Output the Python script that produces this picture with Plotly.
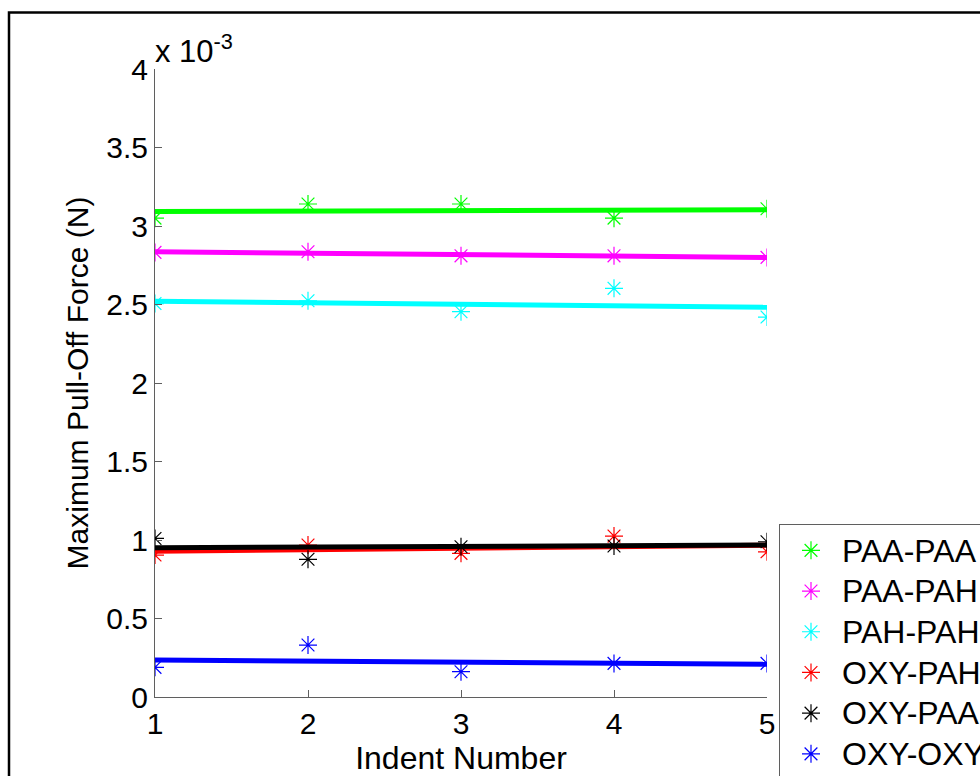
import numpy as np
import plotly.graph_objects as go

# Indent number (x) and maximum pull-off force (values in units of 1e-3 N)
indent = [1, 2, 3, 4, 5]
paa_paa = [3.05, 3.14, 3.14, 3.05, 3.11]
paa_pah = [2.832, 2.836, 2.81, 2.81, 2.80]
pah_pah = [2.506, 2.524, 2.454, 2.603, 2.42]
oxy_pah = [0.904, 0.968, 0.915, 1.025, 0.925]
oxy_paa = [1.01, 0.877, 0.957, 0.962, 0.989]
oxy_oxy = [0.189, 0.331, 0.161, 0.214, 0.214]

series_names = ["PAA-PAA", "PAA-PAH", "PAH-PAH", "OXY-PAH", "OXY-PAA", "OXY-OXY"]
series_vals = [paa_paa, paa_pah, pah_pah, oxy_pah, oxy_paa, oxy_oxy]
series_colors = ["#00FF00", "#FF00FF", "#00FFFF", "#FF0000", "#000000", "#0000FF"]

x_ticks = [1, 2, 3, 4, 5]
y_ticks = [0, 0.5, 1, 1.5, 2, 2.5, 3, 3.5, 4]
y_tick_text = ["0", "0.5", "1", "1.5", "2", "2.5", "3", "3.5", "4"]

FONT = "Liberation Sans, Arial, sans-serif"

fig = go.Figure()
for name, vals, col in zip(series_names, series_vals, series_colors):
    fig.add_trace(go.Scatter(
        x=indent, y=vals, mode="markers",
        name="<span style='font-size:32px'>" + name + "</span>",
        marker=dict(symbol="asterisk", size=15, color=col,
                    line=dict(color=col, width=1.2)),
    ))
    # least-squares trend line through the measured points
    p = np.polyfit(indent, vals, 1)
    xs = [indent[0], indent[-1]]
    fig.add_trace(go.Scatter(
        x=xs, y=list(np.polyval(p, xs)), mode="lines", showlegend=False,
        line=dict(color=col, width=5), hoverinfo="skip",
    ))

axis_col = "#5f5f5f"
fig.update_layout(
    width=980, height=776,
    paper_bgcolor="white", plot_bgcolor="white",
    margin=dict(l=155, r=213, t=69, b=79, autoexpand=False),
    font=dict(family=FONT, size=30, color="black"),
    showlegend=True,
    legend=dict(
        x=(779 - 155) / 612, xanchor="left",
        y=(697 - 524) / 628, yanchor="top",
        bgcolor="white", bordercolor=axis_col, borderwidth=1,
        font=dict(family=FONT, size=29, color="black"),
        itemwidth=52,
    ),
    xaxis=dict(
        range=[1, 5], tickvals=x_ticks, ticks="inside", ticklen=7,
        tickcolor=axis_col, showline=True, linecolor=axis_col, linewidth=1,
        showgrid=False, zeroline=False, mirror=False,
        title=dict(text="Indent Number", standoff=2, font=dict(size=32)),
        tickfont=dict(size=30),
    ),
    yaxis=dict(
        range=[0, 4], tickvals=y_ticks, ticktext=y_tick_text, ticks="inside",
        ticklen=7, tickcolor=axis_col, showline=True, linecolor=axis_col,
        linewidth=1, showgrid=False, zeroline=False, mirror=False,
        title=dict(text="Maximum Pull-Off Force (N)", standoff=8, font=dict(size=30)),
        tickfont=dict(size=30),
    ),
    shapes=[dict(type="rect", xref="paper", yref="paper",
                 x0=(9 - 155) / 612, x1=(1100 - 155) / 612,
                 y0=(697 - 900) / 628, y1=(697 - 12.5) / 628,
                 line=dict(color="black", width=2.5), layer="below")],
    annotations=[dict(text="x 10<sup>-3</sup>", xref="paper", yref="paper",
                      x=0, y=1, xanchor="left", yanchor="bottom",
                      xshift=-2, yshift=-2, showarrow=False,
                      font=dict(family=FONT, size=31, color="black"))],
)

fig.write_html("out.html")
